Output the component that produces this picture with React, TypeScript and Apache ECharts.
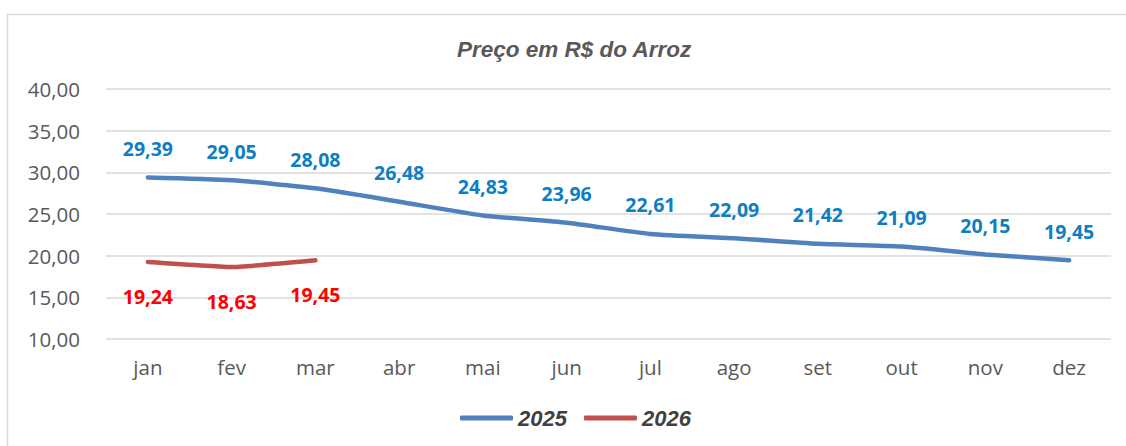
import React, { useEffect, useRef } from "react";
import * as echarts from "echarts";

const categories = ["jan", "fev", "mar", "abr", "mai", "jun", "jul", "ago", "set", "out", "nov", "dez"];
const values2025 = [29.39, 29.05, 28.08, 26.48, 24.83, 23.96, 22.61, 22.09, 21.42, 21.09, 20.15, 19.45];
const values2026 = [19.24, 18.63, 19.45];
const yTicks = { min: 10, max: 40, interval: 5 };

const fmt = (v: number) => v.toFixed(2).replace(".", ",");

export default function App() {
  const ref = useRef<HTMLDivElement>(null);
  useEffect(() => {
    if (!ref.current) return;
    const chart = echarts.init(ref.current, undefined, { renderer: "svg" });
    chart.setOption({
      animation: false,
      backgroundColor: "#ffffff",
      graphic: [
        {
          type: "rect",
          shape: { x: 7.5, y: 14.5, width: 1140, height: 460 },
          style: { fill: "none", stroke: "#d9d9d9", lineWidth: 1.5 },
          silent: true,
          z: -1,
        },
      ],
      title: {
        text: "Preço em R$ do Arroz",
        left: 452,
        top: 33,
        textStyle: {
          fontFamily: "Liberation Sans",
          fontStyle: "italic",
          fontWeight: "bold",
          fontSize: 22.5,
          color: "#595959",
        },
      },
      legend: {
        bottom: 12,
        left: 455,
        itemWidth: 53,
        itemHeight: 5,
        itemGap: 17,
        icon: "roundRect",
        textStyle: {
          fontFamily: "Liberation Sans",
          fontStyle: "italic",
          fontWeight: "bold",
          fontSize: 22,
          color: "#404040",
        },
        data: ["2025", "2026"],
      },
      grid: { left: 106, right: 15, top: 89, bottom: 107, containLabel: false },
      xAxis: {
        type: "category",
        data: categories,
        boundaryGap: true,
        axisLine: { show: false },
        axisTick: { show: false },
        axisLabel: {
          margin: 17,
          fontFamily: "Open Sans",
          fontSize: 20.5,
          color: "#595959",
        },
      },
      yAxis: {
        type: "value",
        min: yTicks.min,
        max: yTicks.max,
        interval: yTicks.interval,
        axisLine: { show: false },
        axisTick: { show: false },
        splitLine: { lineStyle: { color: "#d9d9d9", width: 1.5 } },
        axisLabel: {
          margin: 26,
          fontFamily: "Open Sans",
          fontSize: 20.5,
          color: "#595959",
          formatter: (v: number) => fmt(v),
        },
      },
      series: [
        {
          name: "2025",
          type: "line",
          data: values2025,
          smooth: 0.2,
          symbol: "circle",
          symbolSize: 0.1,
          lineStyle: { color: "#4F81BD", width: 4.5, cap: "round" },
          itemStyle: { color: "#4F81BD" },
          label: {
            show: true,
            position: "top",
            distance: 19,
            formatter: (p: any) => fmt(p.value),
            fontFamily: "Open Sans",
            fontWeight: "bold",
            fontSize: 19.5,
            color: "#0E7EC2",
          },
        },
        {
          name: "2026",
          type: "line",
          data: values2026,
          smooth: 0.1,
          symbol: "circle",
          symbolSize: 0.1,
          lineStyle: { color: "#C0504D", width: 4.5, cap: "round" },
          itemStyle: { color: "#C0504D" },
          label: {
            show: true,
            position: "bottom",
            distance: 24,
            formatter: (p: any) => fmt(p.value),
            fontFamily: "Open Sans",
            fontWeight: "bold",
            fontSize: 19.5,
            color: "#FF0000",
          },
        },
      ],
    });
    return () => chart.dispose();
  }, []);
  return (
    <div
      ref={ref}
      style={{ position: "absolute", left: 0, top: 0, width: 1126, height: 446 }}
    />
  );
}
